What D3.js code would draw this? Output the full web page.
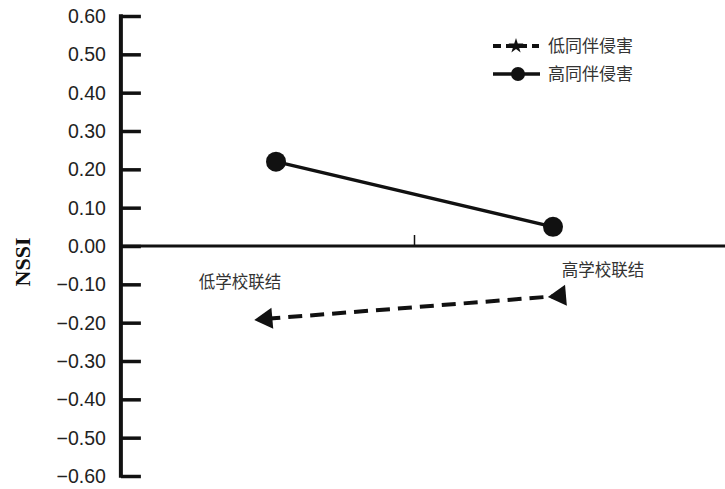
<!DOCTYPE html>
<html lang="zh">
<head>
<meta charset="UTF-8">
<script src="https://d3js.org/d3.v7.min.js"></script>
<style>
  body { margin: 0; background: #fff; }
</style>
</head>
<body>
<div id="container"></div>
<script>
    // data
    const yTicks = [0.6, 0.5, 0.4, 0.3, 0.2, 0.1, 0, -0.1, -0.2, -0.3, -0.4, -0.5, -0.6];
    const categories = ['低学校联结', '高学校联结'];
    const catX = [-1, 1];
    const seriesNames = ['低同伴侵害', '高同伴侵害'];
    const lowVictimX = [-1.07, 1.05];
    const lowVictim = [-0.19, -0.13];
    const highVictimX = [-1, 1];
    const highVictim = [0.22, 0.05];

    const width = 725, height = 489;
    const font = '"Liberation Sans", Arial, sans-serif';
    const cjk = '"Noto Sans CJK SC", sans-serif';

    const svg = d3.select('#container').append('svg')
        .attr('width', width)
        .attr('height', height);

    const y = d3.scaleLinear().domain([-0.6, 0.6]).range([476, 16]);
    const x = d3.scaleLinear().domain([-1, 1]).range([276, 553]);
    const x0 = x(-2.12);

    // y axis
    const yAxis = svg.append('g')
        .attr('transform', `translate(${x0},0)`)
        .call(d3.axisRight(y).tickValues(yTicks).tickSize(20).tickFormat(''));
    yAxis.select('.domain').remove();
    yAxis.selectAll('.tick line').attr('stroke', '#111').attr('stroke-width', 3.5);
    svg.append('line')
        .attr('x1', x0).attr('x2', x0)
        .attr('y1', y(0.6) - 1.75).attr('y2', y(-0.6) + 1.75)
        .attr('stroke', '#111').attr('stroke-width', 4);

    svg.append('g').selectAll('text')
        .data(yTicks).join('text')
        .attr('x', x0 - 15)
        .attr('y', d => y(d))
        .attr('dy', '0.36em')
        .attr('text-anchor', 'end')
        .style('font-family', font)
        .style('font-size', '19.5px')
        .style('fill', '#222')
        .text(d => (d < 0 ? '\u2212' : '') + Math.abs(d).toFixed(2));

    // x axis at zero
    svg.append('line')
        .attr('x1', x0).attr('x2', width)
        .attr('y1', y(0)).attr('y2', y(0))
        .attr('stroke', '#111').attr('stroke-width', 3);
    svg.append('line')
        .attr('x1', x(0)).attr('x2', x(0))
        .attr('y1', y(0)).attr('y2', y(0) - 11)
        .attr('stroke', '#111').attr('stroke-width', 1.5);

    // category labels
    svg.append('text')
        .attr('x', x(catX[0]) - 36).attr('y', 288)
        .attr('text-anchor', 'middle')
        .style('font-family', cjk).style('font-size', '16.5px').style('fill', '#333')
        .text(categories[0]);
    svg.append('text')
        .attr('x', x(catX[1]) + 50).attr('y', 276)
        .attr('text-anchor', 'middle')
        .style('font-family', cjk).style('font-size', '16.5px').style('fill', '#333')
        .text(categories[1]);

    const line = d3.line().x(d => x(d[0])).y(d => y(d[1]));

    // high victimization (solid, circles)
    const hi = highVictimX.map((v, i) => [v, highVictim[i]]);
    svg.append('path')
        .attr('d', line(hi))
        .attr('fill', 'none').attr('stroke', '#111').attr('stroke-width', 3.5);
    svg.append('g').selectAll('circle')
        .data(hi).join('circle')
        .attr('cx', d => x(d[0])).attr('cy', d => y(d[1]))
        .attr('r', 10).attr('fill', '#111');

    // low victimization (dashed, left-pointing triangles)
    const lo = lowVictimX.map((v, i) => [v, lowVictim[i]]);
    svg.append('path')
        .attr('d', line(lo))
        .attr('fill', 'none').attr('stroke', '#111').attr('stroke-width', 4)
        .attr('stroke-dasharray', '14,8');
    const tri = d3.symbol().type(d3.symbolTriangle).size(190);
    svg.append('g').selectAll('path')
        .data(lo).join('path')
        .attr('d', tri)
        .attr('transform', d => `translate(${x(d[0])},${y(d[1])}) rotate(-95)`)
        .attr('fill', '#111');

    // legend
    const lg = svg.append('g');
    lg.append('line')
        .attr('x1', 493).attr('x2', 539).attr('y1', 46).attr('y2', 46)
        .attr('stroke', '#111').attr('stroke-width', 4).attr('stroke-dasharray', '8,5');
    lg.append('path')
        .attr('d', d3.symbol().type(d3.symbolStar).size(70))
        .attr('transform', 'translate(516,46)')
        .attr('fill', '#111');
    lg.append('text')
        .attr('x', 548).attr('y', 46).attr('dy', '0.35em')
        .style('font-family', cjk).style('font-size', '17px').style('fill', '#333')
        .text(seriesNames[0]);
    lg.append('line')
        .attr('x1', 493).attr('x2', 540).attr('y1', 74).attr('y2', 74)
        .attr('stroke', '#111').attr('stroke-width', 3.5);
    lg.append('circle')
        .attr('cx', 518).attr('cy', 74).attr('r', 7).attr('fill', '#111');
    lg.append('text')
        .attr('x', 548).attr('y', 74).attr('dy', '0.35em')
        .style('font-family', cjk).style('font-size', '17px').style('fill', '#333')
        .text(seriesNames[1]);

    // y axis title
    svg.append('text')
        .attr('transform', 'translate(22,262) rotate(-90)')
        .attr('text-anchor', 'middle')
        .attr('dy', '0.35em')
        .style('font-family', '"Liberation Serif", "DejaVu Serif", serif')
        .style('font-weight', 'bold')
        .style('font-size', '22px')
        .style('fill', '#111')
        .text('NSSI');
</script>
</body>
</html>
